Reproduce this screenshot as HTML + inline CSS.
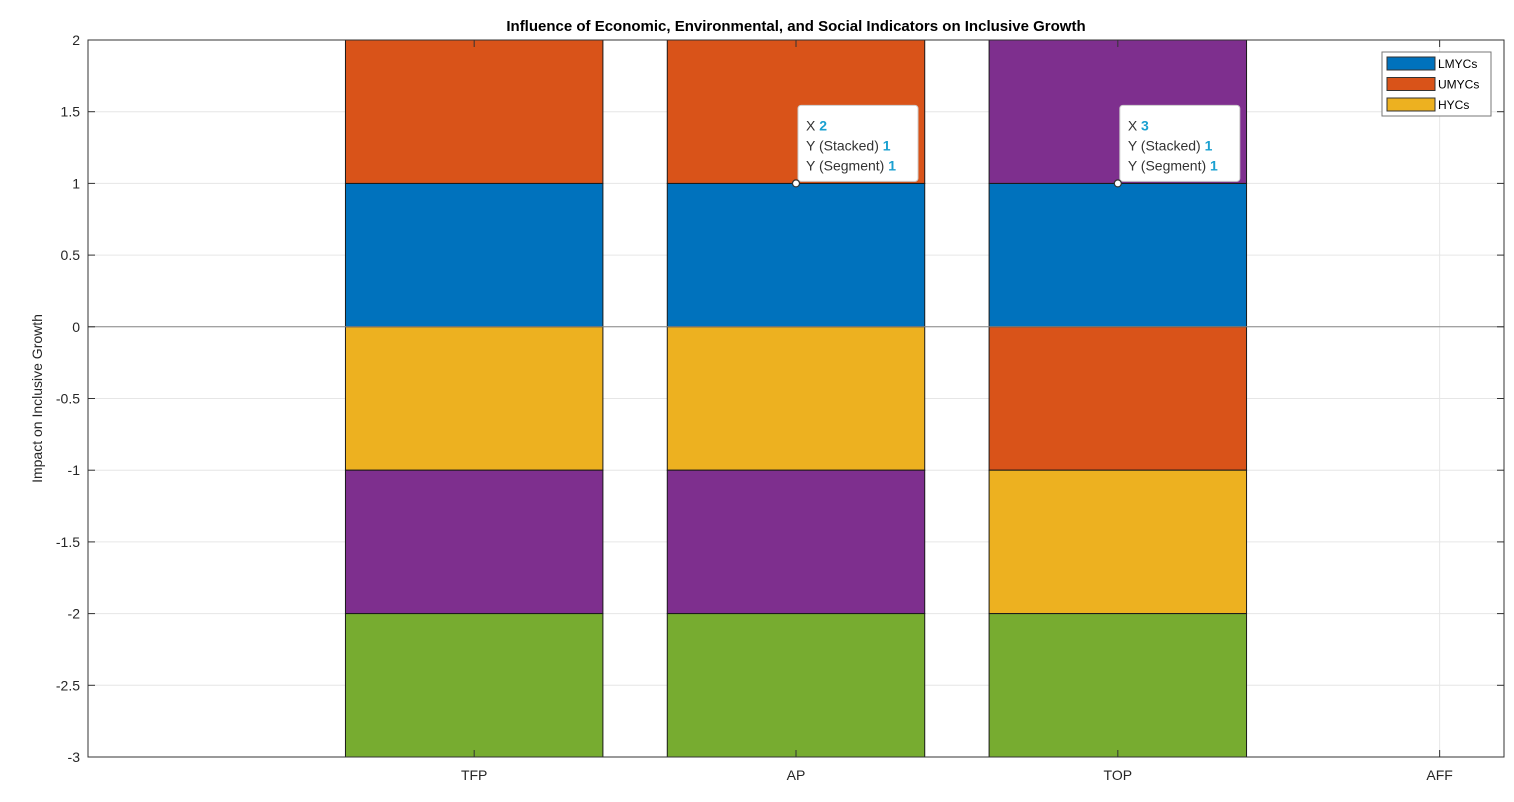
<!DOCTYPE html>
<html><head><meta charset="utf-8"><style>
html,body{margin:0;padding:0;background:#fff;}
svg{display:block;font-family:"Liberation Sans",sans-serif;}
</style></head><body>
<svg id="chart" width="1514" height="802"></svg>
<script>
const categories = ["TFP","AP","TOP","AFF"];
const seriesNames = ["LMYCs","UMYCs","HYCs","Series4","Series5"];
const seriesColors = ["#0072BD","#D95319","#EDB120","#7E2F8E","#77AC30"];
const lmycs = [1,1,1,0];
const umycs = [1,1,-1,0];
const hycs = [-1,-1,-1,0];
const series4 = [-1,-1,1,0];
const series5 = [-1,-1,-1,0];
const yTicks = [2,1.5,1,0.5,0,-0.5,-1,-1.5,-2,-2.5,-3];

const NS="http://www.w3.org/2000/svg";
const svg=document.getElementById('chart');
const L=88,R=1504,T=40,B=757,yMin=-3,yMax=2,xMin=-0.2,xMax=4.2;
const X=v=>L+(v-xMin)/(xMax-xMin)*(R-L);
const Y=v=>T+(yMax-v)/(yMax-yMin)*(B-T);
function el(tag,attrs,parent){const e=document.createElementNS(NS,tag);for(const k in attrs)e.setAttribute(k,attrs[k]);(parent||svg).appendChild(e);return e;}

const defs=el('defs',{});const cp=el('clipPath',{id:'pc'},defs);el('rect',{x:L,y:T,width:R-L,height:B-T},cp);

const grid=el('g',{});


yTicks.forEach(t=>{el('line',{x1:L,x2:R,y1:Y(t),y2:Y(t),stroke:'#e6e6e6','stroke-width':1},grid);});
categories.forEach((c,i)=>{el('line',{x1:X(i+1),x2:X(i+1),y1:T,y2:B,stroke:'#e6e6e6','stroke-width':1},grid);});

const all=[lmycs,umycs,hycs,series4,series5];
const bars=el('g',{'clip-path':'url(#pc)'});


const bw=0.8;
categories.forEach((c,i)=>{
  let pos=0,neg=0;
  all.forEach((s,k)=>{
    const v=s[i]; if(v===0)return;
    let y0,y1;
    if(v>0){y0=pos;y1=pos+v;pos=y1;}else{y0=neg;y1=neg+v;neg=y1;}
    const r=el('rect',{x:X(i+1-bw/2),width:X(i+1+bw/2)-X(i+1-bw/2),y:Y(Math.max(y0,y1)),height:Math.abs(Y(y1)-Y(y0)),fill:seriesColors[k],stroke:'#1a1a1a','stroke-width':1},bars);
    
    
  });
});

el('line',{x1:L,x2:R,y1:Y(0),y2:Y(0),stroke:'#888','stroke-width':1});

const ax=el('g',{});


el('rect',{x:L,y:T,width:R-L,height:B-T,fill:'none',stroke:'#333','stroke-width':1},ax);
yTicks.forEach(t=>{
  el('line',{x1:L,x2:L+7,y1:Y(t),y2:Y(t),stroke:'#333'},ax);
  el('line',{x1:R-7,x2:R,y1:Y(t),y2:Y(t),stroke:'#333'},ax);
  const tx=el('text',{x:L-8,y:Y(t)+5,'text-anchor':'end','font-size':14,fill:'#262626'},ax);
  tx.textContent=String(t);
  
  
});
categories.forEach((c,i)=>{
  el('line',{x1:X(i+1),x2:X(i+1),y1:B,y2:B-7,stroke:'#333'},ax);
  el('line',{x1:X(i+1),x2:X(i+1),y1:T,y2:T+7,stroke:'#333'},ax);
  const tx=el('text',{x:X(i+1),y:B+23,'text-anchor':'middle','font-size':14,fill:'#262626'},ax);
  tx.textContent=c;
  
  
});

const title=el('text',{x:(L+R)/2,y:31,'text-anchor':'middle','font-size':15,'font-weight':'bold',fill:'#000'});
title.textContent='Influence of Economic, Environmental, and Social Indicators on Inclusive Growth';


const yl=el('text',{x:0,y:0,'text-anchor':'middle','font-size':14,fill:'#262626',transform:`translate(42,${(T+B)/2}) rotate(-90)`});
yl.textContent='Impact on Inclusive Growth';



function tip(xv,yv,name){
  const g=el('g',{});
  
  
  const px=X(xv),py=Y(yv);
  el('rect',{x:px+2,y:py-78,width:120,height:76,rx:3,fill:'#fff',stroke:'#ccc'},g);
  const lines=[['X ',String(xv)],['Y (Stacked) ','1'],['Y (Segment) ','1']];
  lines.forEach((l,j)=>{
    const t=el('text',{x:px+10,y:py-53+j*20,'font-size':14,fill:'#333'},g);
    const a=el('tspan',{},t);a.textContent=l[0];
    const b=el('tspan',{fill:'#1aa0d0','font-weight':'bold'},t);b.textContent=l[1];
  });
  el('circle',{cx:px,cy:py,r:3.5,fill:'#fff',stroke:'#333','stroke-width':1.2},g);
}
tip(2,1,'datatip-ap');
tip(3,1,'datatip-top');

const lg=el('g',{});


el('rect',{x:1382,y:52,width:109,height:64,fill:'#fff',stroke:'#777'},lg);
["LMYCs","UMYCs","HYCs"].forEach((n,j)=>{
  const e=el('g',{},lg);
  
  
  el('rect',{x:1387,y:57+j*20.5,width:48,height:13,fill:seriesColors[j],stroke:'#333'},e);
  const t=el('text',{x:1438,y:68+j*20.5,'font-size':12,fill:'#000'},e);t.textContent=n;
});
</script>
</body></html>
